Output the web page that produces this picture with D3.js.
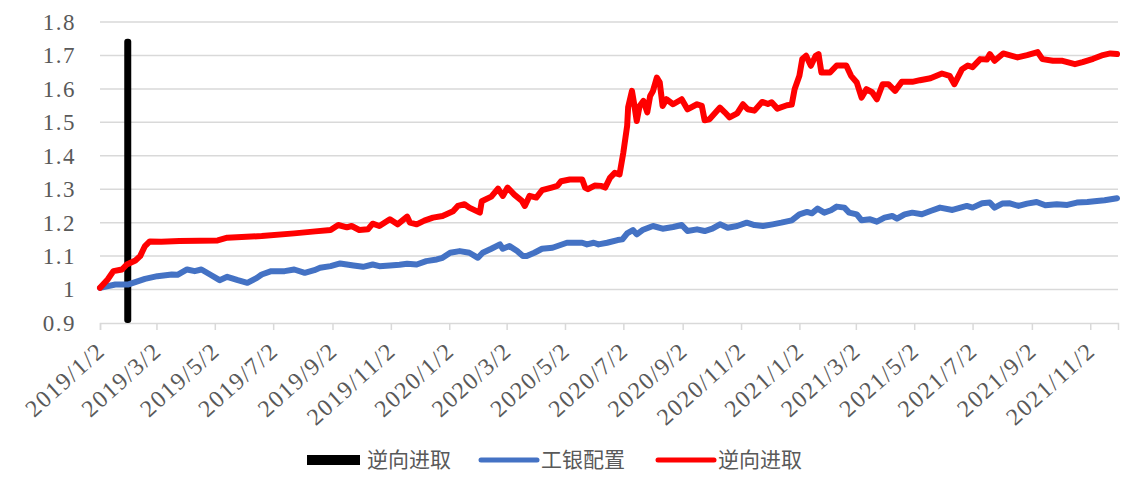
<!DOCTYPE html>
<html>
<head>
<meta charset="utf-8">
<script src="https://cdn.jsdelivr.net/npm/d3@7"></script>
<style>
  body { margin: 0; background: #fff; }
  svg { display: block; }
</style>
</head>
<body>
<script>
// Chart data
var yTicks = [0.9, 1, 1.1, 1.2, 1.3, 1.4, 1.5, 1.6, 1.7, 1.8];
var xTickDates = ["2019-01-02", "2019-03-02", "2019-05-02", "2019-07-02", "2019-09-02", "2019-11-02",
  "2020-01-02", "2020-03-02", "2020-05-02", "2020-07-02", "2020-09-02", "2020-11-02",
  "2021-01-02", "2021-03-02", "2021-05-02", "2021-07-02", "2021-09-02", "2021-11-02"];
var seriesNames = ["逆向进取", "工银配置", "逆向进取"];

// black column (逆向进取)
var barDate = "2019-01-31";
var barValue = 1.75;

// red line (逆向进取)
var redData = [
  ["2019-01-02", 1.005], ["2019-01-10", 1.03], ["2019-01-16", 1.055], ["2019-01-25", 1.06],
  ["2019-01-30", 1.075], ["2019-02-08", 1.087], ["2019-02-13", 1.10], ["2019-02-18", 1.13],
  ["2019-02-23", 1.144], ["2019-03-07", 1.143], ["2019-03-26", 1.145], ["2019-04-16", 1.146],
  ["2019-05-05", 1.147], ["2019-05-15", 1.155], ["2019-06-20", 1.16], ["2019-07-24", 1.168],
  ["2019-08-15", 1.174], ["2019-08-31", 1.178], ["2019-09-08", 1.193], ["2019-09-17", 1.186],
  ["2019-09-22", 1.19], ["2019-09-30", 1.178], ["2019-10-09", 1.18], ["2019-10-14", 1.197],
  ["2019-10-21", 1.19], ["2019-11-01", 1.21], ["2019-11-09", 1.195], ["2019-11-19", 1.218],
  ["2019-11-22", 1.20], ["2019-11-29", 1.195], ["2019-12-07", 1.206], ["2019-12-16", 1.215],
  ["2019-12-26", 1.22], ["2020-01-06", 1.234], ["2020-01-11", 1.25], ["2020-01-18", 1.255],
  ["2020-01-23", 1.245], ["2020-02-03", 1.23], ["2020-02-05", 1.264], ["2020-02-15", 1.278],
  ["2020-02-22", 1.302], ["2020-02-27", 1.28], ["2020-03-03", 1.305], ["2020-03-10", 1.284],
  ["2020-03-18", 1.265], ["2020-03-21", 1.25], ["2020-03-26", 1.28], ["2020-04-02", 1.275],
  ["2020-04-08", 1.297], ["2020-04-18", 1.305], ["2020-04-24", 1.31], ["2020-04-28", 1.324],
  ["2020-05-07", 1.329], ["2020-05-20", 1.329], ["2020-05-23", 1.305], ["2020-05-26", 1.30],
  ["2020-06-02", 1.311], ["2020-06-09", 1.31], ["2020-06-13", 1.305], ["2020-06-18", 1.334],
  ["2020-06-23", 1.349], ["2020-06-28", 1.344], ["2020-07-02", 1.41], ["2020-07-06", 1.49],
  ["2020-07-07", 1.545], ["2020-07-11", 1.594], ["2020-07-13", 1.56], ["2020-07-16", 1.504],
  ["2020-07-19", 1.549], ["2020-07-23", 1.564], ["2020-07-27", 1.53], ["2020-07-30", 1.579],
  ["2020-08-02", 1.594], ["2020-08-06", 1.634], ["2020-08-09", 1.62], ["2020-08-12", 1.549],
  ["2020-08-16", 1.569], ["2020-08-23", 1.554], ["2020-09-01", 1.569], ["2020-09-07", 1.539],
  ["2020-09-17", 1.554], ["2020-09-22", 1.549], ["2020-09-25", 1.506], ["2020-09-30", 1.509],
  ["2020-10-11", 1.544], ["2020-10-16", 1.53], ["2020-10-21", 1.515], ["2020-10-29", 1.527],
  ["2020-11-04", 1.554], ["2020-11-09", 1.539], ["2020-11-16", 1.535], ["2020-11-24", 1.561],
  ["2020-11-30", 1.555], ["2020-12-04", 1.56], ["2020-12-10", 1.541], ["2020-12-20", 1.551],
  ["2020-12-25", 1.553], ["2020-12-28", 1.599], ["2021-01-02", 1.639], ["2021-01-05", 1.689],
  ["2021-01-09", 1.699], ["2021-01-14", 1.669], ["2021-01-19", 1.699], ["2021-01-22", 1.704],
  ["2021-01-25", 1.649], ["2021-02-03", 1.649], ["2021-02-10", 1.67], ["2021-02-20", 1.67],
  ["2021-02-25", 1.639], ["2021-03-03", 1.619], ["2021-03-08", 1.574], ["2021-03-13", 1.599],
  ["2021-03-19", 1.59], ["2021-03-24", 1.569], ["2021-03-30", 1.614], ["2021-04-05", 1.614],
  ["2021-04-12", 1.594], ["2021-04-19", 1.621], ["2021-04-30", 1.621], ["2021-05-08", 1.626],
  ["2021-05-19", 1.632], ["2021-05-31", 1.646], ["2021-06-08", 1.639], ["2021-06-13", 1.614],
  ["2021-06-21", 1.659], ["2021-06-27", 1.67], ["2021-07-02", 1.665], ["2021-07-10", 1.689],
  ["2021-07-17", 1.688], ["2021-07-20", 1.704], ["2021-07-25", 1.684], ["2021-08-03", 1.706],
  ["2021-08-18", 1.694], ["2021-08-28", 1.701], ["2021-09-08", 1.71], ["2021-09-13", 1.689],
  ["2021-09-24", 1.684], ["2021-10-04", 1.684], ["2021-10-17", 1.674], ["2021-10-25", 1.68],
  ["2021-11-05", 1.69], ["2021-11-14", 1.70], ["2021-11-23", 1.706], ["2021-11-30", 1.704]
];

// blue line (工银配置)
var blueData = [
  ["2019-01-02", 1.005], ["2019-01-18", 1.015], ["2019-01-31", 1.015], ["2019-02-18", 1.032],
  ["2019-03-03", 1.04], ["2019-03-18", 1.045], ["2019-03-24", 1.044], ["2019-04-03", 1.06],
  ["2019-04-11", 1.055], ["2019-04-18", 1.06], ["2019-04-27", 1.045], ["2019-05-07", 1.028],
  ["2019-05-15", 1.038], ["2019-05-26", 1.028], ["2019-06-05", 1.02], ["2019-06-15", 1.035],
  ["2019-06-20", 1.045], ["2019-06-30", 1.055], ["2019-07-14", 1.055], ["2019-07-24", 1.06],
  ["2019-08-04", 1.05], ["2019-08-14", 1.058], ["2019-08-20", 1.065], ["2019-08-31", 1.07],
  ["2019-09-10", 1.078], ["2019-09-24", 1.072], ["2019-10-04", 1.068], ["2019-10-14", 1.075],
  ["2019-10-21", 1.07], ["2019-11-01", 1.072], ["2019-11-11", 1.074], ["2019-11-19", 1.077],
  ["2019-11-29", 1.075], ["2019-12-09", 1.085], ["2019-12-20", 1.09], ["2019-12-26", 1.095],
  ["2020-01-03", 1.11], ["2020-01-13", 1.115], ["2020-01-23", 1.11], ["2020-02-01", 1.095],
  ["2020-02-06", 1.11], ["2020-02-15", 1.122], ["2020-02-24", 1.135], ["2020-02-27", 1.122],
  ["2020-03-05", 1.13], ["2020-03-13", 1.115], ["2020-03-19", 1.10], ["2020-03-23", 1.10],
  ["2020-03-31", 1.11], ["2020-04-08", 1.122], ["2020-04-19", 1.125], ["2020-05-04", 1.14],
  ["2020-05-20", 1.14], ["2020-05-25", 1.135], ["2020-06-01", 1.14], ["2020-06-06", 1.135],
  ["2020-06-15", 1.14], ["2020-06-26", 1.148], ["2020-07-01", 1.15], ["2020-07-06", 1.168],
  ["2020-07-12", 1.178], ["2020-07-16", 1.165], ["2020-07-22", 1.178], ["2020-08-02", 1.19],
  ["2020-08-12", 1.182], ["2020-08-23", 1.187], ["2020-09-01", 1.193], ["2020-09-07", 1.175],
  ["2020-09-17", 1.18], ["2020-09-25", 1.175], ["2020-10-03", 1.182], ["2020-10-11", 1.195],
  ["2020-10-19", 1.185], ["2020-10-29", 1.19], ["2020-11-08", 1.20], ["2020-11-16", 1.193],
  ["2020-11-25", 1.19], ["2020-12-05", 1.195], ["2020-12-14", 1.20], ["2020-12-25", 1.207],
  ["2021-01-02", 1.225], ["2021-01-10", 1.232], ["2021-01-15", 1.228], ["2021-01-21", 1.242],
  ["2021-01-28", 1.23], ["2021-02-04", 1.237], ["2021-02-10", 1.248], ["2021-02-18", 1.245],
  ["2021-02-23", 1.23], ["2021-03-03", 1.225], ["2021-03-08", 1.207], ["2021-03-17", 1.21],
  ["2021-03-24", 1.203], ["2021-04-01", 1.215], ["2021-04-09", 1.22], ["2021-04-14", 1.212],
  ["2021-04-22", 1.225], ["2021-04-30", 1.23], ["2021-05-10", 1.225], ["2021-05-19", 1.235],
  ["2021-05-29", 1.245], ["2021-06-11", 1.238], ["2021-06-26", 1.25], ["2021-07-02", 1.245],
  ["2021-07-12", 1.258], ["2021-07-20", 1.26], ["2021-07-25", 1.245], ["2021-08-02", 1.257],
  ["2021-08-10", 1.258], ["2021-08-19", 1.25], ["2021-08-28", 1.257], ["2021-09-07", 1.262],
  ["2021-09-16", 1.252], ["2021-09-28", 1.255], ["2021-10-09", 1.253], ["2021-10-19", 1.26],
  ["2021-10-30", 1.262], ["2021-11-09", 1.265], ["2021-11-17", 1.267], ["2021-11-30", 1.273]
];

var svgWidth = 1128;
var svgHeight = 480;

var margin = { top: 22, right: 10, bottom: 157, left: 100 };
var chartWidth = svgWidth - margin.left - margin.right;
var chartHeight = svgHeight - margin.top - margin.bottom;

var parseDate = d3.timeParse("%Y-%m-%d");
var fmtDate = d3.timeFormat("%Y/%-m/%-d");
var textColor = "#595959";
var gridColor = "#d9d9d9";
var numFont = "'Liberation Serif', 'DejaVu Serif', serif";
var cjkFont = "'Noto Sans CJK SC', sans-serif";

var svg = d3.select("body")
    .append("svg")
    .attr("width", svgWidth)
    .attr("height", svgHeight);

var chartGroup = svg.append("g")
    .attr("transform", `translate(${margin.left}, ${margin.top})`);

var xScale = d3.scaleTime()
    .domain([parseDate("2019-01-02"), parseDate("2021-12-01")])
    .range([0, chartWidth]);

var yScale = d3.scaleLinear()
    .domain([0.9, 1.8])
    .range([chartHeight, 0]);

// horizontal gridlines
chartGroup.append("g")
    .selectAll("line")
    .data(yTicks.slice(1))
    .enter()
    .append("line")
    .attr("x1", 0)
    .attr("x2", chartWidth)
    .attr("y1", d => yScale(d))
    .attr("y2", d => yScale(d))
    .attr("stroke", gridColor)
    .attr("stroke-width", 1.5);

// y axis (labels only)
var leftAxis = d3.axisLeft(yScale)
    .tickValues(yTicks)
    .tickSize(0)
    .tickPadding(24)
    .tickFormat(d => String(+d.toFixed(1)));

var yAxisG = chartGroup.append("g").call(leftAxis);
yAxisG.select(".domain").remove();
yAxisG.selectAll("text")
    .attr("fill", textColor)
    .style("font-family", numFont)
    .style("font-size", "23px")
    .style("letter-spacing", "1.5px");

// x axis
var bottomAxis = d3.axisBottom(xScale)
    .tickValues(xTickDates.map(parseDate))
    .tickSize(7)
    .tickFormat(fmtDate);

var xAxisG = chartGroup.append("g")
    .attr("transform", `translate(0, ${chartHeight})`)
    .call(bottomAxis);

xAxisG.select(".domain").attr("stroke", gridColor).attr("stroke-width", 1.5);
xAxisG.selectAll(".tick line").attr("stroke", gridColor).attr("stroke-width", 1.5);
xAxisG.selectAll("text")
    .attr("fill", textColor)
    .style("font-family", numFont)
    .style("font-size", "24px")
    .style("letter-spacing", "1.5px")
    .attr("text-anchor", "end")
    .attr("y", 0)
    .attr("dy", 0)
    .attr("transform", "translate(6, 30) rotate(-42)");

// black column
chartGroup.append("rect")
    .attr("x", xScale(parseDate(barDate)) - 3.5)
    .attr("y", yScale(barValue))
    .attr("width", 7)
    .attr("height", yScale(0.9) - yScale(barValue))
    .attr("rx", 3)
    .attr("fill", "#000");

var line = d3.line()
    .x(d => xScale(parseDate(d[0])))
    .y(d => yScale(d[1]))
    .curve(d3.curveLinear);

chartGroup.append("path")
    .datum(blueData)
    .attr("d", line)
    .attr("fill", "none")
    .attr("stroke", "#4472C4")
    .attr("stroke-width", 6)
    .attr("stroke-linejoin", "round")
    .attr("stroke-linecap", "round");

chartGroup.append("path")
    .datum(redData)
    .attr("d", line)
    .attr("fill", "none")
    .attr("stroke", "#FF0000")
    .attr("stroke-width", 6)
    .attr("stroke-linejoin", "round")
    .attr("stroke-linecap", "round");

// legend
var legend = svg.append("g").attr("transform", "translate(0, 460)");
var legendX = [307, 481, 658];
var legendColors = ["#000", "#4472C4", "#FF0000"];

legend.selectAll("g")
    .data(seriesNames)
    .enter()
    .append("g")
    .each(function (name, i) {
      var g = d3.select(this);
      if (i === 0) {
        g.append("rect")
            .attr("x", legendX[i])
            .attr("y", -5)
            .attr("width", 53)
            .attr("height", 10)
            .attr("fill", legendColors[i]);
      } else {
        g.append("line")
            .attr("x1", legendX[i])
            .attr("x2", legendX[i] + 56)
            .attr("y1", 0)
            .attr("y2", 0)
            .attr("stroke", legendColors[i])
            .attr("stroke-width", 5)
            .attr("stroke-linecap", "round");
      }
      g.append("text")
          .attr("x", legendX[i] + 60)
          .attr("y", 0)
          .attr("dy", "0.35em")
          .attr("fill", textColor)
          .style("font-family", cjkFont)
          .style("font-size", "21px")
          .text(name);
    });
</script>
</body>
</html>
